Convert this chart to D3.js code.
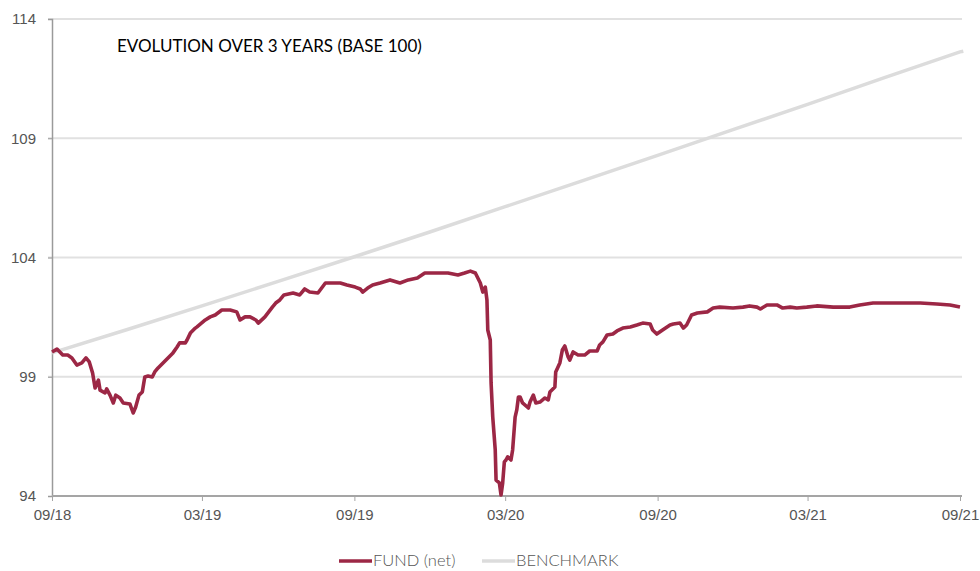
<!DOCTYPE html>
<html>
<head>
<meta charset="utf-8">
<script src="https://cdn.jsdelivr.net/npm/d3@7"></script>
<style>
  body { margin: 0; background: #fff; }
  svg { display: block; font-family: "Lato", "Open Sans", sans-serif; }
</style>
</head>
<body>
<svg id="chart" width="980" height="571"></svg>
<script>
// fund (net) values, base 100
const fundDates = [
  "2018-09-01","2018-09-07","2018-09-14","2018-09-20","2018-09-25","2018-10-01","2018-10-07","2018-10-12",
  "2018-10-16","2018-10-20","2018-10-23","2018-10-27","2018-10-29","2018-11-04","2018-11-06","2018-11-10",
  "2018-11-14","2018-11-17","2018-11-22","2018-11-26","2018-12-04","2018-12-08","2018-12-11","2018-12-15",
  "2018-12-19","2018-12-22","2018-12-26","2018-12-31","2019-01-03","2019-01-07","2019-01-13","2019-01-19",
  "2019-01-25","2019-01-30","2019-02-02","2019-02-09","2019-02-11","2019-02-15","2019-02-21","2019-02-23",
  "2019-03-05","2019-03-11","2019-03-17","2019-03-25","2019-04-04","2019-04-12","2019-04-16","2019-04-22",
  "2019-04-28","2019-05-05","2019-05-08","2019-05-16","2019-05-25","2019-05-29","2019-06-03","2019-06-08",
  "2019-06-19","2019-06-27","2019-07-03","2019-07-09","2019-07-19","2019-07-28","2019-08-09","2019-08-15",
  "2019-08-23","2019-09-02","2019-09-08","2019-09-11","2019-09-17","2019-09-23","2019-10-02","2019-10-14",
  "2019-10-26","2019-11-05","2019-11-16","2019-11-25","2019-12-05","2019-12-13","2019-12-23","2020-01-04",
  "2020-01-12","2020-01-19","2020-01-25","2020-01-31","2020-02-03","2020-02-06","2020-02-08","2020-02-09",
  "2020-02-12","2020-02-13","2020-02-15","2020-02-18","2020-02-19","2020-02-23","2020-02-25","2020-02-27",
  "2020-02-29","2020-03-02","2020-03-04","2020-03-08","2020-03-10","2020-03-13","2020-03-15","2020-03-17",
  "2020-03-19","2020-03-22","2020-03-29","2020-03-31","2020-04-04","2020-04-07","2020-04-12","2020-04-18",
  "2020-04-22","2020-04-24","2020-04-30","2020-05-01","2020-05-06","2020-05-09","2020-05-12","2020-05-16",
  "2020-05-18","2020-05-22","2020-05-28","2020-06-05","2020-06-11","2020-06-20","2020-06-23","2020-06-27",
  "2020-07-02","2020-07-09","2020-07-14","2020-07-21","2020-07-30","2020-08-07","2020-08-14","2020-08-23",
  "2020-08-26","2020-08-31","2020-09-07","2020-09-16","2020-09-20","2020-09-28","2020-10-02","2020-10-06",
  "2020-10-12","2020-10-19","2020-10-31","2020-11-07","2020-11-15","2020-12-01","2020-12-13","2020-12-21",
  "2020-12-30","2021-01-03","2021-01-11","2021-01-23","2021-01-30","2021-02-08","2021-02-16","2021-02-28",
  "2021-03-12","2021-04-01","2021-04-21","2021-05-03","2021-05-19","2021-06-08","2021-06-24","2021-07-15",
  "2021-08-04","2021-08-20","2021-09-01"
];
const fundValues = [
  100.04,100.16,99.91,99.91,99.79,99.49,99.58,99.79,
  99.62,99.16,98.53,98.86,98.44,98.32,98.49,98.23,
  97.90,98.23,98.11,97.90,97.86,97.48,97.73,98.23,
  98.36,98.99,99.03,98.99,99.20,99.37,99.58,99.79,
  100.00,100.25,100.42,100.42,100.54,100.83,101.04,101.09,
  101.38,101.51,101.59,101.80,101.80,101.72,101.38,101.51,
  101.51,101.38,101.25,101.51,101.92,102.09,102.22,102.43,
  102.51,102.43,102.68,102.55,102.51,102.93,102.93,102.93,
  102.85,102.76,102.68,102.55,102.72,102.85,102.93,103.06,
  102.93,103.06,103.14,103.35,103.35,103.35,103.35,103.27,
  103.35,103.43,103.35,102.93,102.55,102.76,102.22,100.96,
  100.54,98.74,97.31,95.93,94.67,94.55,94.04,94.55,
  95.43,95.51,95.64,95.51,95.93,97.31,97.61,98.15,
  98.15,97.90,97.69,97.94,98.23,97.90,97.94,98.11,
  98.03,98.36,98.57,99.20,99.58,100.12,100.29,99.83,
  99.70,100.04,99.91,99.91,100.08,100.08,100.33,100.46,
  100.75,100.79,100.92,101.04,101.09,101.17,101.25,101.21,
  100.96,100.79,100.96,101.17,101.21,101.25,101.04,101.17,
  101.59,101.67,101.72,101.88,101.92,101.88,101.92,101.97,
  101.92,101.84,102.01,102.01,101.88,101.92,101.88,101.92,
  101.97,101.92,101.92,102.01,102.09,102.09,102.09,102.09,
  102.05,102.01,101.92
];

// benchmark, quarterly
const benchDates = [
  "2018-09-01","2018-12-01","2019-03-01","2019-06-01","2019-09-01","2019-12-01","2020-03-01",
  "2020-06-01","2020-09-01","2020-12-01","2021-03-01","2021-06-01","2021-09-01","2021-09-05"
];
const benchValues = [
  100.00,100.98,101.97,103.00,104.03,105.07,106.13,
  107.20,108.28,109.36,110.42,111.53,112.62,112.65
];

const yTicks = [94, 99, 104, 109, 114];
const xTickDates = ["2018-09-01","2019-03-01","2019-09-01","2020-03-01","2020-09-01","2021-03-01","2021-09-01"];
const xTickLabels = ["09/18","03/19","09/19","03/20","09/20","03/21","09/21"];

const titleText = "EVOLUTION OVER 3 YEARS (BASE 100)";
const legendNames = ["FUND (net)", "BENCHMARK"];
const colors = { fund: "#9c2745", bench: "#dcdcdc" };

const parse = d3.timeParse("%Y-%m-%d");
const fund = fundDates.map((d, i) => ({ date: parse(d), value: fundValues[i] }));
const bench = benchDates.map((d, i) => ({ date: parse(d), value: benchValues[i] }));

const svg = d3.select("#chart");
const plotLeft = 52, plotRight = 962, plotTop = 19, plotBottom = 496;

const x = d3.scaleTime()
  .domain([parse("2018-09-01"), parse("2021-09-01")])
  .range([plotLeft, 960]);
const y = d3.scaleLinear().domain([94, 114]).range([plotBottom, plotTop]);

// gridlines
svg.append("g")
  .selectAll("line")
  .data(yTicks.filter(t => t > 94))
  .join("line")
  .attr("x1", plotLeft - 4).attr("x2", plotRight)
  .attr("y1", d => y(d)).attr("y2", d => y(d))
  .style("stroke", "#e1e1e1")
  .style("stroke-width", 2);

// y axis
const yAxis = svg.append("g")
  .attr("transform", `translate(${plotLeft},0)`)
  .call(d3.axisLeft(y).tickValues(yTicks).tickSize(4).tickPadding(12).tickFormat(d3.format("d")));
yAxis.select(".domain").style("stroke", "#9a9a9a").style("stroke-width", 1.5);
yAxis.selectAll(".tick line").style("stroke", "#9a9a9a");
yAxis.selectAll("text")
  .style("font-size", "15px").style("fill", "#555").style("font-weight", 300);

// x axis
const xAxis = svg.append("g")
  .attr("transform", `translate(0,${plotBottom})`)
  .call(d3.axisBottom(x).tickValues(xTickDates.map(parse)).tickSize(5).tickPadding(8)
    .tickFormat((d, i) => xTickLabels[i]));
xAxis.select(".domain").attr("d", `M${plotLeft},0H${plotRight}`).style("stroke", "#a5a5a5").style("stroke-width", 2);
xAxis.selectAll(".tick line").style("stroke", "#a5a5a5");
xAxis.selectAll("text")
  .style("font-size", "15px").style("fill", "#555").style("font-weight", 300);

const line = d3.line().x(d => x(d.date)).y(d => y(d.value)).curve(d3.curveLinear);

svg.append("path")
  .datum(bench)
  .attr("d", line)
  .style("fill", "none")
  .style("stroke", colors.bench)
  .style("stroke-width", 3.5);

svg.append("path")
  .datum(fund)
  .attr("d", line)
  .style("fill", "none")
  .style("stroke", colors.fund)
  .style("stroke-width", 3.6)
  .style("stroke-linejoin", "round");

// title
svg.append("text")
  .attr("x", 117).attr("y", 52)
  .text(titleText)
  .style("font-size", "17px")
  .style("fill", "#000");

// legend
const legend = svg.append("g").attr("transform", "translate(339,561)");
const lg = legend.selectAll("g")
  .data(legendNames)
  .join("g")
  .attr("transform", (d, i) => `translate(${i * 143},0)`);
lg.append("line")
  .attr("x1", 0).attr("x2", 33)
  .style("stroke", (d, i) => i === 0 ? colors.fund : colors.bench)
  .style("stroke-width", 3.5);
lg.append("text")
  .attr("x", 34).attr("dy", "0.33em")
  .text(d => d)
  .style("font-size", "16.5px")
  .style("fill", "#555")
  .style("font-weight", 300);
</script>
</body>
</html>
